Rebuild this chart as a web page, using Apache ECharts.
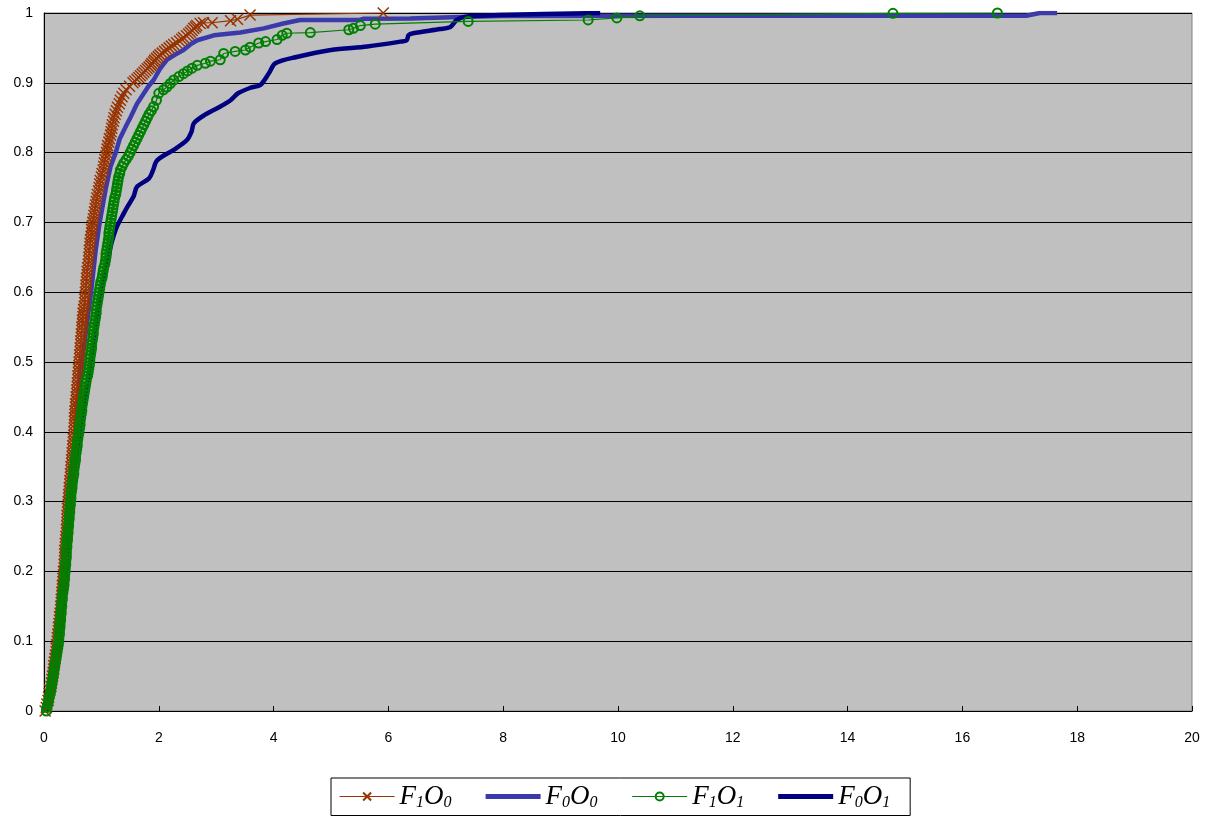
<!DOCTYPE html>
<html>
<head>
<meta charset="utf-8">
<script src="https://cdn.jsdelivr.net/npm/echarts@6/dist/echarts.min.js"></script>
<style>
html,body{margin:0;padding:0;background:#fff;}
#chart{width:1214px;height:819px;}
</style>
</head>
<body>
<div id="chart"></div>
<script>
// ---- Tick labels ----
var xTickLabels = ['0','2','4','6','8','10','12','14','16','18','20'];
var yTickLabels = ['0','0.1','0.2','0.3','0.4','0.5','0.6','0.7','0.8','0.9','1'];

// ---- Series names ----
var seriesNames = ['F1O0','F0O0','F1O1','F0O1'];

// ---- F1O0 (brown, crosses) ----
var f1o0X = [
  0.02,0.04,0.05,0.07,0.08,0.09,0.10,0.12,0.13,0.14,
  0.15,0.16,0.17,0.17,0.18,0.19,0.20,0.21,0.21,0.22,
  0.23,0.23,0.24,0.25,0.25,0.26,0.27,0.27,0.28,0.29,
  0.29,0.30,0.30,0.31,0.31,0.32,0.32,0.33,0.33,0.34,
  0.34,0.35,0.35,0.36,0.36,0.36,0.36,0.37,0.37,0.38,
  0.38,0.39,0.39,0.40,0.40,0.40,0.40,0.41,0.41,0.42,
  0.42,0.43,0.43,0.44,0.44,0.45,0.45,0.46,0.46,0.47,
  0.47,0.48,0.48,0.49,0.49,0.50,0.50,0.51,0.51,0.52,
  0.52,0.53,0.53,0.53,0.53,0.54,0.54,0.55,0.55,0.56,
  0.56,0.57,0.57,0.58,0.58,0.59,0.59,0.60,0.60,0.61,
  0.61,0.62,0.62,0.63,0.63,0.64,0.64,0.65,0.65,0.66,
  0.66,0.67,0.67,0.68,0.68,0.69,0.70,0.71,0.71,0.72,
  0.72,0.73,0.73,0.74,0.74,0.75,0.75,0.76,0.77,0.78,
  0.78,0.79,0.79,0.80,0.80,0.81,0.82,0.83,0.83,0.84,
  0.85,0.86,0.87,0.88,0.89,0.90,0.91,0.92,0.93,0.95,
  0.96,0.97,0.98,1.00,1.01,1.03,1.04,1.05,1.06,1.08,
  1.09,1.10,1.11,1.13,1.14,1.16,1.17,1.18,1.19,1.21,
  1.22,1.24,1.26,1.28,1.31,1.33,1.36,1.39,1.43,1.49,
  1.55,1.58,1.62,1.65,1.68,1.71,1.74,1.77,1.80,1.83,
  1.86,1.88,1.91,1.93,1.96,1.99,2.02,2.06,2.10,2.14,
  2.18,2.22,2.26,2.31,2.36,2.40,2.43,2.48,2.52,2.55,
  2.58,2.61,2.64,2.66,2.72,2.78,2.93,3.25,3.37,3.59,
  5.91];
var f1o0Y = [
  0.000,0.005,0.010,0.015,0.020,0.025,0.030,0.035,0.040,0.045,
  0.050,0.055,0.060,0.065,0.070,0.075,0.080,0.085,0.090,0.095,
  0.100,0.105,0.110,0.115,0.120,0.125,0.130,0.135,0.140,0.145,
  0.150,0.155,0.160,0.165,0.170,0.175,0.180,0.185,0.190,0.195,
  0.200,0.205,0.210,0.215,0.220,0.225,0.230,0.235,0.240,0.245,
  0.250,0.255,0.260,0.265,0.270,0.275,0.280,0.285,0.290,0.295,
  0.300,0.305,0.310,0.315,0.320,0.325,0.330,0.335,0.340,0.345,
  0.350,0.355,0.360,0.365,0.370,0.375,0.380,0.385,0.390,0.395,
  0.400,0.405,0.410,0.415,0.420,0.425,0.430,0.435,0.440,0.445,
  0.450,0.455,0.460,0.465,0.470,0.475,0.480,0.485,0.490,0.495,
  0.500,0.505,0.510,0.515,0.520,0.525,0.530,0.535,0.540,0.545,
  0.550,0.555,0.560,0.565,0.570,0.575,0.580,0.585,0.590,0.595,
  0.600,0.605,0.610,0.615,0.620,0.625,0.630,0.635,0.640,0.645,
  0.650,0.655,0.660,0.665,0.670,0.675,0.680,0.685,0.690,0.695,
  0.700,0.705,0.710,0.715,0.720,0.725,0.730,0.735,0.740,0.745,
  0.750,0.755,0.760,0.765,0.770,0.775,0.780,0.785,0.790,0.795,
  0.800,0.805,0.810,0.815,0.820,0.825,0.830,0.835,0.840,0.845,
  0.850,0.855,0.860,0.865,0.870,0.875,0.880,0.885,0.890,0.895,
  0.900,0.9025,0.905,0.9075,0.910,0.9125,0.915,0.9175,0.920,0.9225,
  0.925,0.9275,0.930,0.9325,0.935,0.9375,0.940,0.9425,0.945,0.9475,
  0.950,0.9525,0.955,0.9575,0.960,0.9625,0.965,0.9675,0.970,0.9725,
  0.975,0.978,0.980,0.982,0.985,0.986,0.986,0.989,0.991,0.997,
  1.000];

// ---- F0O0 (blue, thick) ----
var f0o0X = [0.04,0.15,0.24,0.30,0.35,0.39,0.43,0.49,0.55,0.60,
  0.66,0.74,0.82,0.90,0.97,1.08,1.16,1.25,1.32,1.44,
  1.51,1.62,1.74,1.82,1.91,2.02,2.14,2.28,2.43,2.55,
  2.67,2.96,3.42,3.83,4.17,4.46,5.50,5.56,6.38,7.25,
  7.95,11.43,17.11,17.35,17.65];
var f0o0Y = [0.00,0.05,0.10,0.15,0.20,0.25,0.30,0.35,0.40,0.45,
  0.50,0.55,0.60,0.66,0.70,0.75,0.78,0.80,0.82,0.84,
  0.851,0.87,0.885,0.895,0.904,0.92,0.933,0.94,0.947,0.955,
  0.961,0.968,0.972,0.978,0.985,0.990,0.990,0.9916,0.992,0.9943,
  0.9957,0.996,0.996,1.00,1.00];

// ---- F1O1 (green, circles) ----
var f1o1X = [
  0.04,0.05,0.07,0.08,0.09,0.11,0.12,0.13,0.14,0.15,
  0.16,0.17,0.18,0.19,0.20,0.21,0.22,0.23,0.24,0.25,
  0.26,0.26,0.27,0.27,0.28,0.28,0.29,0.29,0.30,0.30,
  0.31,0.31,0.32,0.32,0.33,0.34,0.35,0.35,0.36,0.36,
  0.37,0.37,0.38,0.38,0.39,0.39,0.39,0.40,0.40,0.41,
  0.41,0.42,0.42,0.43,0.43,0.44,0.44,0.45,0.45,0.46,
  0.46,0.47,0.47,0.48,0.49,0.49,0.50,0.51,0.52,0.52,
  0.53,0.54,0.55,0.55,0.56,0.57,0.58,0.58,0.59,0.60,
  0.61,0.62,0.63,0.63,0.64,0.65,0.66,0.66,0.67,0.68,
  0.69,0.70,0.71,0.72,0.73,0.74,0.76,0.77,0.78,0.79,
  0.80,0.80,0.81,0.82,0.83,0.83,0.84,0.85,0.86,0.86,
  0.87,0.88,0.89,0.90,0.91,0.91,0.92,0.93,0.94,0.95,
  0.96,0.97,0.98,0.99,1.01,1.02,1.03,1.04,1.06,1.07,
  1.08,1.08,1.09,1.10,1.11,1.12,1.13,1.13,1.14,1.15,
  1.16,1.17,1.18,1.19,1.20,1.21,1.22,1.23,1.25,1.26,
  1.27,1.28,1.29,1.30,1.32,1.33,1.36,1.39,1.43,1.47,
  1.50,1.53,1.56,1.59,1.62,1.65,1.68,1.71,1.74,1.77,
  1.80,1.83,1.87,1.91,1.96,2.00,2.08,2.14,2.20,2.26,
  2.35,2.43,2.50,2.58,2.67,2.81,2.90,3.07,3.13,3.33,
  3.51,3.59,3.74,3.86,4.06,4.15,4.23,4.64,5.31,5.39,
  5.51,5.77,7.39,9.48,9.98,10.38,14.79,16.61];
var f1o1Y = [
  0.000,0.005,0.010,0.015,0.020,0.025,0.030,0.035,0.040,0.045,
  0.050,0.055,0.060,0.065,0.070,0.075,0.080,0.085,0.090,0.095,
  0.100,0.105,0.110,0.115,0.120,0.125,0.130,0.135,0.140,0.145,
  0.150,0.155,0.160,0.165,0.170,0.175,0.180,0.185,0.190,0.195,
  0.200,0.205,0.210,0.215,0.220,0.225,0.230,0.235,0.240,0.245,
  0.250,0.255,0.260,0.265,0.270,0.275,0.280,0.285,0.290,0.295,
  0.300,0.305,0.310,0.315,0.320,0.325,0.330,0.335,0.340,0.345,
  0.350,0.355,0.360,0.365,0.370,0.375,0.380,0.385,0.390,0.395,
  0.400,0.405,0.410,0.415,0.420,0.425,0.430,0.435,0.440,0.445,
  0.450,0.455,0.460,0.465,0.470,0.475,0.480,0.485,0.490,0.495,
  0.500,0.505,0.510,0.515,0.520,0.525,0.530,0.535,0.540,0.545,
  0.550,0.555,0.560,0.565,0.570,0.575,0.580,0.585,0.590,0.595,
  0.600,0.605,0.610,0.615,0.620,0.625,0.630,0.635,0.640,0.645,
  0.650,0.655,0.660,0.665,0.670,0.675,0.680,0.685,0.690,0.695,
  0.700,0.705,0.710,0.715,0.720,0.725,0.730,0.735,0.740,0.745,
  0.750,0.755,0.760,0.765,0.770,0.775,0.780,0.785,0.790,0.795,
  0.800,0.805,0.810,0.815,0.820,0.825,0.830,0.835,0.840,0.845,
  0.850,0.855,0.860,0.866,0.875,0.885,0.890,0.894,0.899,0.904,
  0.909,0.913,0.917,0.921,0.925,0.928,0.931,0.933,0.942,0.945,
  0.947,0.951,0.957,0.959,0.962,0.968,0.971,0.972,0.976,0.978,
  0.982,0.984,0.988,0.990,0.993,0.996,0.9995,1.000];

// ---- F0O1 (navy, thick) ----
var f0o1X = [0.05,0.17,0.27,0.38,0.47,0.62,0.81,0.98,1.12,1.16,
  1.21,1.27,1.39,1.45,1.56,1.62,1.83,1.90,1.97,2.26,
  2.49,2.57,2.61,2.80,3.05,3.25,3.38,3.60,3.77,3.92,
  4.03,4.40,5.00,5.63,6.21,6.32,6.35,6.43,6.90,7.08,
  7.19,7.37,7.95,9.69];
var f0o1Y = [0.00,0.05,0.10,0.20,0.30,0.40,0.50,0.60,0.646,0.665,
  0.68,0.694,0.713,0.722,0.737,0.751,0.763,0.775,0.789,0.804,
  0.818,0.830,0.842,0.854,0.865,0.875,0.885,0.893,0.897,0.914,
  0.928,0.937,0.947,0.952,0.959,0.961,0.968,0.971,0.977,0.980,
  0.990,0.995,0.997,1.00];

function pairs(xs, ys) {
  var out = [];
  for (var i = 0; i < xs.length; i++) out.push([xs[i], ys[i]]);
  return out;
}

var chart = echarts.init(document.getElementById('chart'), null, {renderer: 'canvas'});

var crossPath = 'path://M0,0L10,10M10,0L0,10';
var barIcon = 'path://M0,0L55,0L55,5L0,5Z';
var serif = 'Liberation Serif, Times New Roman, serif';

var option = {
  animation: false,
  backgroundColor: '#ffffff',
  grid: {
    left: 44, right: 22, top: 13, bottom: 108,
    show: true, backgroundColor: '#c0c0c0', borderColor: '#808080', borderWidth: 1
  },
  xAxis: {
    type: 'value', min: 0, max: 20, interval: 2,
    axisLine: {show: true, onZero: false, lineStyle: {color: '#000', width: 1}},
    axisTick: {show: true, inside: true, length: 5, lineStyle: {color: '#000'}},
    splitLine: {show: false},
    axisLabel: {
      margin: 20, color: '#000', fontSize: 14, fontFamily: 'Liberation Sans, Arial, sans-serif',
      formatter: function (v) { return xTickLabels[Math.round(v / 2)]; }
    }
  },
  yAxis: {
    type: 'value', min: 0, max: 1, interval: 0.1,
    axisLine: {show: true, lineStyle: {color: '#000', width: 1}},
    axisTick: {show: true, inside: true, length: 6, lineStyle: {color: '#000'}},
    splitLine: {show: true, lineStyle: {color: '#000', width: 1}},
    axisLabel: {
      margin: 11, color: '#000', fontSize: 14, fontFamily: 'Liberation Sans, Arial, sans-serif',
      formatter: function (v) { return yTickLabels[Math.round(v * 10)]; }
    }
  },
  legend: {
    left: 331, top: 778,
    padding: [5, 20, 5, 8],
    itemGap: 34, itemWidth: 55, itemHeight: 10,
    borderColor: '#000', borderWidth: 1,
    backgroundColor: '#fff',
    data: [
      {name: seriesNames[0], lineStyle: {width: 1.2}},
      {name: seriesNames[1], icon: barIcon, itemStyle: {color: '#3a3aaa', borderWidth: 0}},
      {name: seriesNames[2], lineStyle: {width: 1.2}},
      {name: seriesNames[3], icon: barIcon, itemStyle: {color: '#000080', borderWidth: 0}}
    ],
    formatter: function (name) {
      return '{i|' + name.charAt(0) + '}{s|' + name.charAt(1) + '}{i|' + name.charAt(2) + '}{s|' + name.charAt(3) + '}';
    },
    textStyle: {
      rich: {
        i: {fontFamily: serif, fontStyle: 'italic', fontSize: 27, color: '#000', lineHeight: 28},
        s: {fontFamily: serif, fontStyle: 'italic', fontSize: 16, color: '#000', verticalAlign: 'bottom', lineHeight: 20}
      }
    }
  },
  series: [
    {
      name: seriesNames[1], type: 'line', z: 2,
      data: pairs(f0o0X, f0o0Y),
      showSymbol: false, symbol: 'none',
      color: '#3a3aaa',
      lineStyle: {color: '#3a3aaa', width: 4.5}
    },
    {
      name: seriesNames[3], type: 'line', z: 3,
      data: pairs(f0o1X, f0o1Y),
      showSymbol: false, symbol: 'none', smooth: 0.3,
      color: '#000080',
      lineStyle: {color: '#000080', width: 4.5}
    },
    {
      name: seriesNames[0], type: 'line', z: 4,
      data: pairs(f1o0X, f1o0Y),
      symbol: crossPath, symbolSize: 11, showSymbol: true,
      color: '#993300',
      lineStyle: {color: '#993300', width: 1.2},
      itemStyle: {color: '#993300', borderColor: '#993300', borderWidth: 1.5}
    },
    {
      name: seriesNames[2], type: 'line', z: 5,
      data: pairs(f1o1X, f1o1Y),
      symbol: 'circle', symbolSize: 9, showSymbol: true,
      color: '#008000',
      lineStyle: {color: '#008000', width: 1.2},
      itemStyle: {color: 'rgba(0,0,0,0)', borderColor: '#008000', borderWidth: 2}
    }
  ]
};
chart.setOption(option);
</script>
</body>
</html>
